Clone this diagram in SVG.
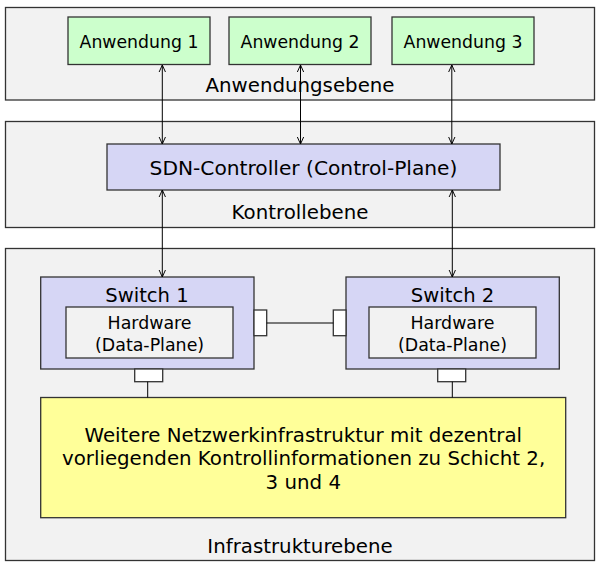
<svg xmlns="http://www.w3.org/2000/svg" width="601" height="571" viewBox="0 0 601 571">
<style>
text{font-family:"DejaVu Sans",Verdana,sans-serif;fill:#000;text-anchor:middle}
.panel{fill:#f2f2f2;stroke:#333;stroke-width:1.3}
.app{fill:#ccffcc;stroke:#333;stroke-width:1.3}
.ctrl{fill:#d6d6f5;stroke:#333;stroke-width:1.3}
.sw{fill:#d6d6f5;stroke:#333;stroke-width:1.3}
.hw{fill:#f2f2f2;stroke:#333;stroke-width:1.3}
.port{fill:#fff;stroke:#333;stroke-width:1.3}
.infra{fill:#ffff99;stroke:#333;stroke-width:1.3}
.conn{stroke:#000;stroke-width:1;fill:none}
.lbl{font-size:19.8px}
.small{font-size:17.3px}
</style>
<defs>
<marker id="arr" viewBox="0 0 10 10" refX="10" refY="5" markerWidth="7" markerHeight="9.5" markerUnits="userSpaceOnUse" orient="auto-start-reverse">
<path d="M0,0.5 L10,5 L0,9.5" fill="none" stroke="#000" stroke-width="1.4"/>
</marker>
</defs>
<g id="layer-app">
<rect class="panel" x="5.5" y="7.5" width="589" height="92.5"/>
<text class="lbl" x="300" y="92">Anwendungsebene</text>
</g>
<g id="layer-ctrl">
<rect class="panel" x="5.5" y="121.5" width="589" height="106"/>
<text class="lbl" x="300" y="219.3">Kontrollebene</text>
</g>
<g id="layer-infra">
<rect class="panel" x="5.5" y="248.5" width="589" height="312"/>
<text class="lbl" x="300" y="552.7">Infrastrukturebene</text>
</g>
<g id="app1">
<rect class="app" x="68" y="17" width="142" height="47.5"/>
<text class="small" x="139" y="47.8">Anwendung 1</text>
</g>
<g id="app2">
<rect class="app" x="229" y="17" width="142" height="47.5"/>
<text class="small" x="300" y="47.8">Anwendung 2</text>
</g>
<g id="app3">
<rect class="app" x="392" y="17" width="142" height="47.5"/>
<text class="small" x="463" y="47.8">Anwendung 3</text>
</g>
<g id="sdn-controller">
<rect class="ctrl" x="107" y="144" width="393" height="46"/>
<text x="303.5" y="175" style="font-size:20.2px">SDN-Controller (Control-Plane)</text>
</g>
<g id="switch1">
<rect class="sw" x="40.7" y="277" width="213.3" height="92"/>
<text x="147" y="301.7" style="font-size:19.6px">Switch 1</text>
<rect class="hw" x="66" y="307" width="167" height="51"/>
<text x="149.6" y="329" style="font-size:17.4px">Hardware</text>
<text x="149.6" y="350.7" style="font-size:17.4px">(Data-Plane)</text>
<rect class="port" x="254" y="310" width="12.7" height="25.7"/>
<rect class="port" x="134.7" y="369" width="28" height="12.7"/>
</g>
<g id="switch2">
<rect class="sw" x="346" y="277" width="213.3" height="92"/>
<text x="452.6" y="301.7" style="font-size:19.6px">Switch 2</text>
<rect class="hw" x="369" y="307" width="167" height="51"/>
<text x="452.5" y="329" style="font-size:17.4px">Hardware</text>
<text x="452.5" y="350.7" style="font-size:17.4px">(Data-Plane)</text>
<rect class="port" x="333.3" y="310" width="12.7" height="25.7"/>
<rect class="port" x="437.7" y="369" width="28" height="12.7"/>
</g>
<g id="infrastructure">
<rect class="infra" x="40.7" y="397.5" width="525" height="120.2"/>
<text class="lbl" x="303.3" y="441.7">Weitere Netzwerkinfrastruktur mit dezentral</text>
<text class="lbl" x="303.6" y="465">vorliegenden Kontrollinformationen zu Schicht 2,</text>
<text class="lbl" x="303.3" y="489.3">3 und 4</text>
</g>
<g id="connectors">
<line class="conn" x1="162.3" y1="65" x2="162.3" y2="144" marker-start="url(#arr)" marker-end="url(#arr)"/>
<line class="conn" x1="300.5" y1="65" x2="300.5" y2="144" marker-start="url(#arr)" marker-end="url(#arr)"/>
<line class="conn" x1="451.8" y1="65" x2="451.8" y2="144" marker-start="url(#arr)" marker-end="url(#arr)"/>
<line class="conn" x1="162.3" y1="190" x2="162.3" y2="277" marker-start="url(#arr)" marker-end="url(#arr)"/>
<line class="conn" x1="452.3" y1="190" x2="452.3" y2="277" marker-start="url(#arr)" marker-end="url(#arr)"/>
<line class="conn" x1="266.7" y1="323" x2="333.3" y2="323"/>
<line class="conn" x1="147.7" y1="381.7" x2="147.7" y2="397.5"/>
<line class="conn" x1="452.3" y1="381.7" x2="452.3" y2="397.5"/>
</g>
</svg>
